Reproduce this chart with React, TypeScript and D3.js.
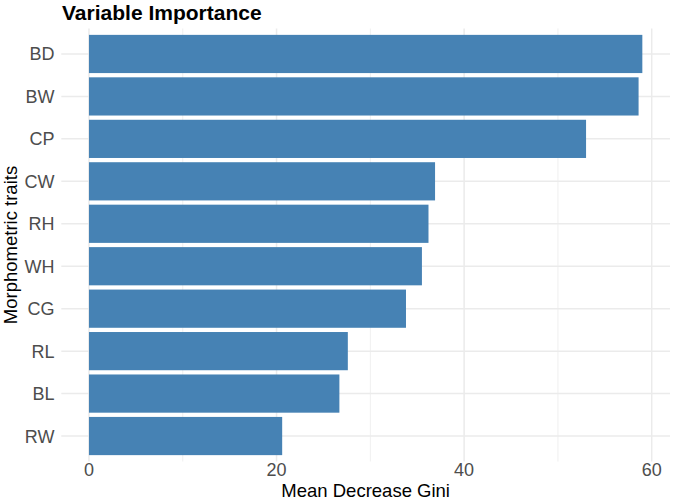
import React from "react";
import * as d3 from "d3";

const categories = ["BD", "BW", "CP", "CW", "RH", "WH", "CG", "RL", "BL", "RW"];
const values = [59.0, 58.6, 53.0, 36.9, 36.2, 35.5, 33.8, 27.6, 26.7, 20.6];
const majorTicks = [0, 20, 40, 60];
const minorTicks = [10, 30, 50];
const title = "Variable Importance";
const xTitle = "Mean Decrease Gini";
const yTitle = "Morphometric traits";

const W = 673;
const H = 500;
const panel = { left: 61.3, right: 670, top: 28.5, bottom: 461.5 };
const FONT = "'Liberation Sans', Arial, Helvetica, sans-serif";

export default function App() {
  const maxV = d3.max(values) as number;
  const x = d3
    .scaleLinear()
    .domain([-0.05 * maxV, 1.05 * maxV])
    .range([panel.left, panel.right]);
  const n = categories.length;
  // ggplot discrete expansion: 0.6 units each side
  const y = d3
    .scaleLinear()
    .domain([0.4, n + 0.6])
    .range([panel.top, panel.bottom]);
  const step = y(2) - y(1);
  const barH = step * 0.9;
  const grid = "#EBEBEB";
  const txt = "#4D4D4D";

  return (
    <svg
      width={W}
      height={H}
      style={{ position: "absolute", left: 0, top: 0, background: "#fff" }}
      fontFamily={FONT}
    >
      {minorTicks.map((t) => (
        <line
          key={"mi" + t}
          x1={x(t)}
          x2={x(t)}
          y1={panel.top}
          y2={panel.bottom}
          stroke={grid}
          strokeWidth={0.8}
        />
      ))}
      {majorTicks.map((t) => (
        <line
          key={"ma" + t}
          x1={x(t)}
          x2={x(t)}
          y1={panel.top}
          y2={panel.bottom}
          stroke={grid}
          strokeWidth={1.5}
        />
      ))}
      {categories.map((c, i) => (
        <line
          key={"hg" + c}
          x1={panel.left}
          x2={panel.right}
          y1={y(i + 1)}
          y2={y(i + 1)}
          stroke={grid}
          strokeWidth={1.5}
        />
      ))}
      {categories.map((c, i) => (
        <rect
          key={"b" + c}
          x={x(0)}
          y={y(i + 1) - barH / 2}
          width={x(values[i]) - x(0)}
          height={barH}
          fill="#4682B4"
        />
      ))}
      {categories.map((c, i) => (
        <text
          key={"yl" + c}
          x={54.5}
          y={y(i + 1)}
          dy="0.36em"
          textAnchor="end"
          fontSize={18}
          fill={txt}
        >
          {c}
        </text>
      ))}
      {majorTicks.map((t) => (
        <text
          key={"xl" + t}
          x={x(t)}
          y={476}
          textAnchor="middle"
          fontSize={18}
          fill={txt}
        >
          {t}
        </text>
      ))}
      <text
        x={(panel.left + panel.right) / 2}
        y={496.5}
        textAnchor="middle"
        fontSize={18.5}
        fill="#000"
      >
        {xTitle}
      </text>
      <text
        transform={`translate(17.3,${(panel.top + panel.bottom) / 2}) rotate(-90)`}
        textAnchor="middle"
        fontSize={18.5}
        fill="#000"
      >
        {yTitle}
      </text>
      <text x={62} y={20} fontSize={21} fontWeight="bold" fill="#000">
        {title}
      </text>
    </svg>
  );
}
